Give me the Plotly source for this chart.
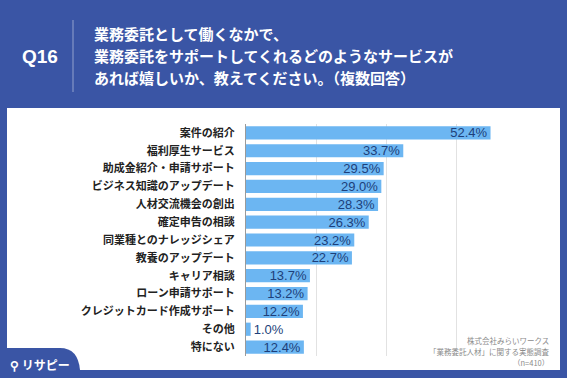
import plotly.graph_objects as go

categories = ["案件の紹介", "福利厚生サービス", "助成金紹介・申請サポート", "ビジネス知識のアップデート",
              "人材交流機会の創出", "確定申告の相談", "同業種とのナレッジシェア", "教養のアップデート",
              "キャリア相談", "ローン申請サポート", "クレジットカード作成サポート", "その他", "特にない"]
values = [52.4, 33.7, 29.5, 29.0, 28.3, 26.3, 23.2, 22.7, 13.7, 13.2, 12.2, 1.0, 12.4]
value_labels = [f"{v:.1f}%" for v in values]
grid_ticks = [0, 15, 30, 45, 60]
title_lines = ["業務委託として働くなかで、", "業務委託をサポートしてくれるどのようなサービスが",
               "あれば嬉しいか、教えてください。（複数回答）"]
source_lines = ["株式会社みらいワークス", "「業務委託人材」に関する実態調査", "（n=410）"]

W, H = 567, 378
BLUE = "#3a55a5"
JP = "Noto Sans CJK JP"

def px(x):
    return x / W

def py(y):
    return 1 - y / H

fig = go.Figure(go.Bar(
    x=values, y=categories, orientation="h",
    marker=dict(color="#6cb6f2", line=dict(width=0)),
    width=0.74,
    text=value_labels, textposition="auto", insidetextanchor="end",
    insidetextfont=dict(family="Liberation Sans, Arial", size=13, color="#1d3f7a"),
    outsidetextfont=dict(family="Liberation Sans, Arial", size=13, color="#1d3f7a"),
    cliponaxis=False, hoverinfo="skip",
))

shapes = [
    dict(type="rect", xref="paper", yref="paper", x0=px(7), x1=px(560), y0=py(370), y1=py(108),
         fillcolor="white", line=dict(width=0), layer="below"),
    dict(type="path", xref="paper", yref="paper",
         path=(f"M {px(0)} {py(378)} L {px(0)} {py(348)} L {px(60)} {py(348)} "
               f"Q {px(78)} {py(348)} {px(80)} {py(370)} L {px(80)} {py(378)} Z"),
         fillcolor=BLUE, line=dict(width=0), layer="below"),
    dict(type="line", xref="paper", yref="paper", x0=px(73), x1=px(73), y0=py(20), y1=py(92),
         line=dict(color="rgba(255,255,255,0.45)", width=1)),
]

annotations = [
    dict(text="<b>Q16</b>", x=px(40), y=py(56), xref="paper", yref="paper", showarrow=False,
         font=dict(family="Liberation Sans, Arial", size=19, color="white"), xanchor="center", yanchor="middle"),
]
for i, line in enumerate(title_lines):
    annotations.append(dict(text=f"<b>{line}</b>", x=px(92), y=py(33 + 22.5 * i), xref="paper", yref="paper",
                            showarrow=False, font=dict(family=JP, size=15, color="white"),
                            xanchor="left", yanchor="middle"))
for i, line in enumerate(source_lines):
    annotations.append(dict(text=line, x=px(551), y=py(340 + 11 * i), xref="paper", yref="paper",
                            showarrow=False, font=dict(family=JP, size=7.5, color="#8a8a8a"),
                            xanchor="right", yanchor="middle"))
annotations.append(dict(text="<b>⚲ リサピー</b>", x=px(8), y=py(364), xref="paper", yref="paper", showarrow=False,
                        font=dict(family=JP, size=12, color="white"), xanchor="left", yanchor="middle"))

fig.update_layout(
    width=W, height=H,
    margin=dict(l=0, r=0, t=0, b=0),
    paper_bgcolor=BLUE, plot_bgcolor="rgba(0,0,0,0)",
    showlegend=False, shapes=shapes, annotations=annotations,
    uniformtext=dict(minsize=13, mode="show"),
    xaxis=dict(domain=[px(246), px(526)], range=[0, 60], tickvals=grid_ticks, showticklabels=False,
               showgrid=True, gridcolor="#e2e2e2", gridwidth=1, zeroline=False, fixedrange=True),
    yaxis=dict(domain=[py(356), py(124)], autorange="reversed", showline=True, linecolor="#9a9a9a",
               linewidth=1, ticks="", ticklabelstandoff=8,
               tickfont=dict(family=JP, size=11, color="#222222"),
               categoryorder="array", categoryarray=categories,
               tickvals=categories, ticktext=[f"<b>{c}</b>" for c in categories]),
)

fig.write_html("out.html", config={"displayModeBar": False},
               post_script="document.body.style.margin='0';document.body.style.overflow='hidden';")
